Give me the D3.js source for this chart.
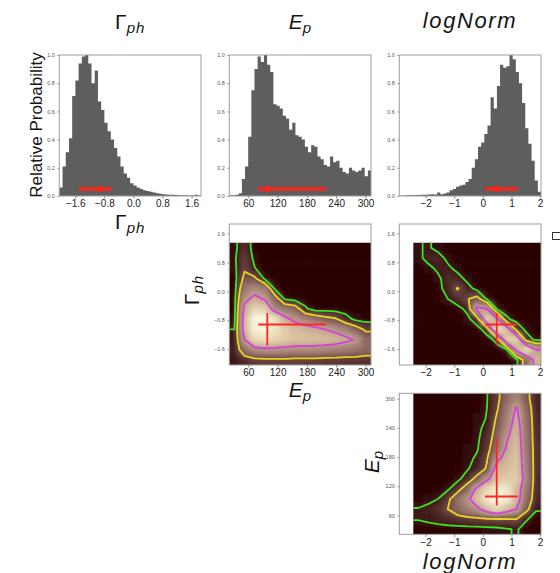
<!DOCTYPE html>
<html><head><meta charset="utf-8">
<script src="https://cdn.jsdelivr.net/npm/d3@7/dist/d3.min.js"></script>
<style>
body{margin:0;background:#fff;}
svg{display:block;font-family:"Liberation Sans",Arial,sans-serif;}
</style></head><body>
<svg id="chart" width="560" height="573"></svg>
<script>
// ---------------- data ----------------
const gammaHist = [0.06,0.21,0.31,0.41,0.71,0.82,0.94,0.99,1.00,0.94,0.80,0.89,0.67,0.61,0.52,0.46,0.40,0.34,0.28,0.21,0.16,0.13,0.09,0.075,0.06,0.05,0.04,0.035,0.03,0.025,0.02,0.016,0.013,0.011,0.009,0.008,0.007,0.006,0.005,0.005,0.004,0.004,0.008,0.003];
const epHist = [0.005,0.005,0.008,0.02,0.12,0.21,0.42,0.75,0.90,0.99,0.95,1.00,0.93,0.88,0.65,0.64,0.62,0.57,0.55,0.47,0.52,0.43,0.42,0.40,0.35,0.31,0.36,0.35,0.28,0.26,0.22,0.21,0.28,0.24,0.25,0.20,0.17,0.16,0.20,0.18,0.17,0.18,0.20,0.14,0.18];
const normHist = [0.004,0.004,0.005,0.006,0.006,0.007,0.007,0.008,0.008,0.01,0.012,0.01,0.025,0.012,0.018,0.025,0.04,0.05,0.065,0.075,0.08,0.10,0.12,0.20,0.26,0.35,0.38,0.44,0.50,0.70,0.62,0.78,0.93,0.91,0.92,1.00,0.97,0.88,0.80,0.66,0.48,0.37,0.25,0.11,0.03];

// credible intervals: [low, median, high]
const gammaCI = [-1.50, -0.92, -0.60];
const epCI = [80.4, 98.8, 219.0];
const normCI = [0.074, 0.483, 1.22];

const gammaRange = [-2.04, 1.86];
const epRange = [21, 311.3];
const normRange = [-2.92, 2.03];

const gammaTicks = [-1.6, -0.8, 0, 0.8, 1.6];
const epTicks = [60, 120, 180, 240, 300];
const normTicks = [-2, -1, 0, 1, 2];
const probTicks = [0, 0.2, 0.4, 0.6, 0.8, 1.0];

// 2D relative densities (rows: top -> bottom, cols: left -> right)
const epGammaExtent = {x: [21, 311.3], y: [-2.04, 1.34]};
const epGammaGrid = [
 [0.02,0.13,0.00,0,0,0,0,0,0,0,0,0,0,0],
 [0.03,0.16,0.02,0,0,0,0,0,0,0,0,0,0,0],
 [0.02,0.18,0.055,0,0,0,0,0,0,0,0,0,0,0],
 [0.00,0.24,0.23,0.03,0,0,0,0,0,0,0,0,0,0],
 [0.00,0.35,0.42,0.38,0.04,0,0,0,0,0,0,0,0,0],
 [0.01,0.45,0.55,0.48,0.30,0.03,0,0,0,0,0,0,0,0],
 [0.01,0.55,0.75,0.70,0.40,0.35,0.30,0.07,0,0,0,0,0,0],
 [0.02,0.60,0.95,1.00,0.80,0.55,0.45,0.38,0.32,0.26,0.22,0.10,0.02,0],
 [0.05,0.60,0.92,0.95,0.82,0.70,0.62,0.58,0.55,0.50,0.45,0.38,0.28,0.17],
 [0.06,0.50,0.75,0.80,0.72,0.68,0.65,0.64,0.63,0.62,0.60,0.55,0.48,0.30],
 [0.08,0.32,0.42,0.45,0.45,0.44,0.42,0.42,0.42,0.40,0.38,0.36,0.34,0.30],
 [0.06,0.12,0.16,0.17,0.17,0.17,0.16,0.16,0.16,0.15,0.15,0.14,0.14,0.13]
];
const normGammaExtent = {x: [-2.43, 2.03], y: [-2.04, 1.34]};
const normGammaGrid = [
 [0.036,0.067,0.013,0.002,0,0,0,0,0,0,0,0,0],
 [0.014,0.094,0.107,0.018,0.002,0,0,0,0,0,0,0,0],
 [0.001,0.012,0.078,0.078,0.012,0.001,0,0,0,0,0,0,0],
 [0,0.002,0.02,0.116,0.098,0.015,0.002,0,0,0,0,0,0],
 [0,0,0.01,0.10,0.21,0.10,0.01,0,0,0,0,0,0],
 [0,0,0.01,0.05,0.12,0.19,0.26,0.03,0,0,0,0,0],
 [0,0,0,0,0.01,0.08,0.55,0.50,0.05,0.01,0,0,0],
 [0,0,0,0,0,0.02,0.12,0.72,0.55,0.07,0.01,0,0],
 [0,0,0,0,0,0,0.01,0.10,0.85,0.65,0.15,0.02,0],
 [0,0,0,0,0,0,0,0.01,0.08,0.70,0.75,0.12,0.02],
 [0,0,0,0,0,0,0,0,0.01,0.04,0.55,0.80,0.50],
 [0,0,0,0,0,0,0,0,0,0,0.02,0.30,0.58]
];
const normEpExtent = {x: [-2.43, 2.03], y: [21, 311.3]};
const normEpGrid = [
 [0,0,0,0,0,0,0.01,0.045,0.16,0.30,0.40,0.25,0.10],
 [0,0,0,0,0,0,0.01,0.05,0.18,0.35,0.52,0.30,0.10],
 [0,0,0,0,0,0,0.02,0.055,0.22,0.38,0.56,0.32,0.11],
 [0,0,0,0,0,0,0.02,0.09,0.25,0.42,0.60,0.33,0.12],
 [0,0,0,0,0,0.01,0.03,0.12,0.28,0.48,0.62,0.34,0.12],
 [0,0,0,0,0,0.015,0.04,0.15,0.32,0.52,0.64,0.35,0.13],
 [0,0,0,0,0.005,0.02,0.07,0.19,0.45,0.58,0.66,0.36,0.13],
 [0,0,0,0,0.01,0.04,0.10,0.22,0.60,0.62,0.68,0.37,0.13],
 [0,0,0,0.01,0.02,0.11,0.26,0.45,0.65,0.68,0.70,0.40,0.12],
 [0,0,0.01,0.03,0.14,0.30,0.55,0.75,0.90,0.85,0.62,0.35,0.12],
 [0.01,0.02,0.05,0.16,0.32,0.45,0.65,0.85,1.00,0.90,0.60,0.32,0.11],
 [0.055,0.08,0.12,0.20,0.30,0.38,0.45,0.62,0.75,0.62,0.50,0.25,0.06],
 [0.055,0.07,0.09,0.11,0.13,0.15,0.16,0.18,0.19,0.19,0.20,0.06,0.01],
 [0,0.005,0.01,0.01,0.01,0.01,0.01,0.015,0.02,0.04,0.06,0.01,0]
];
const contourLevels = [0.05, 0.2, 0.5];
const contourColors = ["#3be31f", "#e9d51e", "#d43fe0"];

// ---------------- layout ----------------
const svg = d3.select("#chart");
const W = 141.7, H = 141;
const colX = [59.3, 229.3, 399.3];
const rowY = [55, 224, 393.3];

const xGamma = d3.scaleLinear().domain(gammaRange).range([colX[0], colX[0] + W]);
const xEp = d3.scaleLinear().domain(epRange).range([colX[1], colX[1] + W]);
const xNorm = d3.scaleLinear().domain(normRange).range([colX[2], colX[2] + W]);
const yProb = d3.scaleLinear().domain([0, 1]).range([rowY[0] + H, rowY[0]]);
const yGamma = d3.scaleLinear().domain(gammaRange).range([rowY[1] + H, rowY[1]]);
const yEp = d3.scaleLinear().domain(epRange).range([rowY[2] + H, rowY[2]]);

const heatColor = d3.scaleLinear()
  .domain([0, 0.05, 0.12, 0.2, 0.35, 0.5, 0.65, 0.8, 1.0])
  .range(["#2a0303", "#3a1212", "#512b29", "#6e4844", "#9c7770", "#c2a08c", "#dcc3a2", "#efe0bc", "#fffbe6"])
  .clamp(true);

const defs = svg.append("defs");
defs.append("filter").attr("id", "soft")
  .attr("x", "-10%").attr("y", "-10%").attr("width", "120%").attr("height", "120%")
  .append("feGaussianBlur").attr("stdDeviation", 3.4);

const MINUS = "\u2212";
const fmt1 = d => (d < 0 ? MINUS : "") + Math.abs(d).toFixed(1);
const fmtInt = d => (d < 0 ? MINUS : "") + Math.abs(d);

function xAxis(scale, ticks, fmt, y) {
  const g = svg.append("g").attr("transform", `translate(0,${y})`)
    .call(d3.axisBottom(scale).tickValues(ticks).tickFormat(fmt).tickSize(2.5).tickPadding(1.8));
  g.select(".domain").remove();
  g.attr("font-family", "'Liberation Sans', Arial, sans-serif").attr("font-size", 10);
  g.selectAll(".tick line").attr("stroke", "#888");
  g.selectAll(".tick text").attr("fill", "#222");
}
function yAxis(scale, ticks, fmt, x) {
  const g = svg.append("g").attr("transform", `translate(${x},0)`)
    .call(d3.axisLeft(scale).tickValues(ticks).tickFormat(fmt).tickSize(2).tickPadding(2.5));
  g.select(".domain").remove();
  g.attr("font-family", "'Liberation Sans', Arial, sans-serif").attr("font-size", 5.5);
  g.selectAll(".tick line").attr("stroke", "#999");
  g.selectAll(".tick text").attr("fill", "#555");
}
function frame(x, y) {
  svg.append("rect").attr("x", x).attr("y", y).attr("width", W).attr("height", H)
    .attr("fill", "none").attr("stroke", "#9d9d9d").attr("stroke-width", 1);
}

function hist(vals, range, xs, ci, col) {
  const n = vals.length, bw = (range[1] - range[0]) / n;
  const pts = vals.map((v, i) => [range[0] + i * bw, v]);
  pts.push([range[1], vals[n - 1]]);
  const area = d3.area().curve(d3.curveStepAfter)
    .x(d => xs(d[0])).y0(yProb(0)).y1(d => yProb(d[1]));
  const g = svg.append("g");
  g.append("path").datum(pts).attr("d", area).attr("fill", "#5e5e5e");
  g.append("line").attr("x1", xs(ci[0])).attr("x2", xs(ci[2]))
    .attr("y1", yProb(0.05)).attr("y2", yProb(0.05))
    .attr("stroke", "#f0281e").attr("stroke-width", 3.8);
  g.append("circle").attr("cx", xs(ci[1])).attr("cy", yProb(0.05)).attr("r", 3.2).attr("fill", "#f0281e");
  frame(colX[col], rowY[0]);
  yAxis(yProb, probTicks, d => d.toFixed(1), colX[col]);
}

function heat(grid, ext, xs, ys, id) {
  const m = grid.length, n = grid[0].length;
  const dx = (ext.x[1] - ext.x[0]) / n, dy = (ext.y[1] - ext.y[0]) / m;
  const cell = (r, c) => grid[Math.max(0, Math.min(m - 1, r))][Math.max(0, Math.min(n - 1, c))];
  const x0 = xs(ext.x[0]), x1 = xs(ext.x[1]), yT = ys(ext.y[1]), yB = ys(ext.y[0]);
  defs.append("clipPath").attr("id", id).append("rect")
    .attr("x", x0).attr("y", yT).attr("width", x1 - x0).attr("height", yB - yT);
  const g = svg.append("g").attr("clip-path", `url(#${id})`);
  const P = 2, cells = [];
  for (let r = -P; r < m + P; r++) for (let c = -P; c < n + P; c++) cells.push({r, c, v: cell(r, c)});
  g.append("g").attr("filter", "url(#soft)").selectAll("rect").data(cells).join("rect")
    .attr("x", d => xs(ext.x[0] + d.c * dx))
    .attr("width", d => xs(ext.x[0] + (d.c + 1) * dx) - xs(ext.x[0] + d.c * dx) + 0.6)
    .attr("y", d => ys(ext.y[1] - d.r * dy))
    .attr("height", d => ys(ext.y[1] - (d.r + 1) * dy) - ys(ext.y[1] - d.r * dy) + 0.6)
    .attr("fill", d => heatColor(d.v));
  const vals = [];
  for (let r = -1; r <= m; r++) for (let c = -1; c <= n; c++) vals.push(cell(r, c));
  const cs = d3.contours().size([n + 2, m + 2]).thresholds(contourLevels)(vals);
  const proj = d3.geoTransform({point(px, py) {
    this.stream.point(xs(ext.x[0] + (px - 1) * dx), ys(ext.y[1] - (py - 1) * dy));
  }});
  const path = d3.geoPath(proj);
  g.selectAll("path.ct").data(cs).join("path").attr("class", "ct")
    .attr("d", path).attr("fill", "none")
    .attr("stroke", (d, i) => contourColors[i]).attr("stroke-width", 1.8)
    .attr("stroke-linejoin", "round");
}

function cross(xs, ys, cx, cy) {
  const g = svg.append("g").attr("stroke", "#ff2626").attr("stroke-width", 1.8);
  g.append("line").attr("x1", xs(cx[0])).attr("x2", xs(cx[2])).attr("y1", ys(cy[1])).attr("y2", ys(cy[1]));
  g.append("line").attr("x1", xs(cx[1])).attr("x2", xs(cx[1])).attr("y1", ys(cy[0])).attr("y2", ys(cy[2]));
}

// ---- row 1: histograms ----
hist(gammaHist, gammaRange, xGamma, gammaCI, 0);
hist(epHist, epRange, xEp, epCI, 1);
hist(normHist, normRange, xNorm, normCI, 2);
xAxis(xGamma, gammaTicks, fmt1, rowY[0] + H);
xAxis(xEp, epTicks, fmtInt, rowY[0] + H);
xAxis(xNorm, normTicks, fmtInt, rowY[0] + H);

// ---- row 2 ----
heat(epGammaGrid, epGammaExtent, xEp, yGamma, "clipA");
cross(xEp, yGamma, epCI, gammaCI);
frame(colX[1], rowY[1]);
heat(normGammaGrid, normGammaExtent, xNorm, yGamma, "clipB");
cross(xNorm, yGamma, normCI, gammaCI);
frame(colX[2], rowY[1]);
xAxis(xEp, epTicks, fmtInt, rowY[1] + H);
xAxis(xNorm, normTicks, fmtInt, rowY[1] + H);
yAxis(yGamma, gammaTicks, fmt1, colX[1]);
yAxis(yGamma, gammaTicks, fmt1, colX[2]);

// ---- row 3 ----
heat(normEpGrid, normEpExtent, xNorm, yEp, "clipC");
cross(xNorm, yEp, normCI, epCI);
frame(colX[2], rowY[2]);
xAxis(xNorm, normTicks, fmtInt, rowY[2] + H);
yAxis(yEp, epTicks, fmtInt, colX[2]);

// ---- labels ----
function mathText(x, y, parts, rotate) {
  const t = svg.append("text").attr("text-anchor", "middle").attr("fill", "#151515")
    .attr("transform", rotate ? `translate(${x},${y}) rotate(-90)` : `translate(${x},${y})`);
  parts.forEach(p => t.append("tspan").text(p.t).attr("font-size", p.s)
    .attr("font-style", p.i ? "italic" : "normal").attr("dy", p.dy || 0)
    .attr("letter-spacing", p.ls || 0));
}
const gammaLabel = [{t: "\u0393", s: 21}, {t: "ph", s: 15, i: true, dy: 4, ls: 1}];
const epLabel = [{t: "E", s: 21, i: true}, {t: "p", s: 15, i: true, dy: 4}];
const normLabel = [{t: "logNorm", s: 22, i: true, ls: 1.6}];

mathText(130.2, 29, gammaLabel);
mathText(300, 28.5, epLabel);
mathText(470, 28, normLabel);
mathText(130.2, 229, gammaLabel);
mathText(300, 397, epLabel);
mathText(470, 568.5, normLabel);
mathText(198.5, 290, gammaLabel, true);
mathText(378.5, 462, epLabel, true);
svg.append("text").attr("transform", "translate(41.5,125) rotate(-90)")
  .attr("text-anchor", "middle").attr("font-size", 17).attr("fill", "#151515")
  .text("Relative Probability");

// small legend box at right edge
svg.append("rect").attr("x", 552.5).attr("y", 232.5).attr("width", 12).attr("height", 7)
  .attr("fill", "#fff").attr("stroke", "#333").attr("stroke-width", 1);
</script>
</body></html>
